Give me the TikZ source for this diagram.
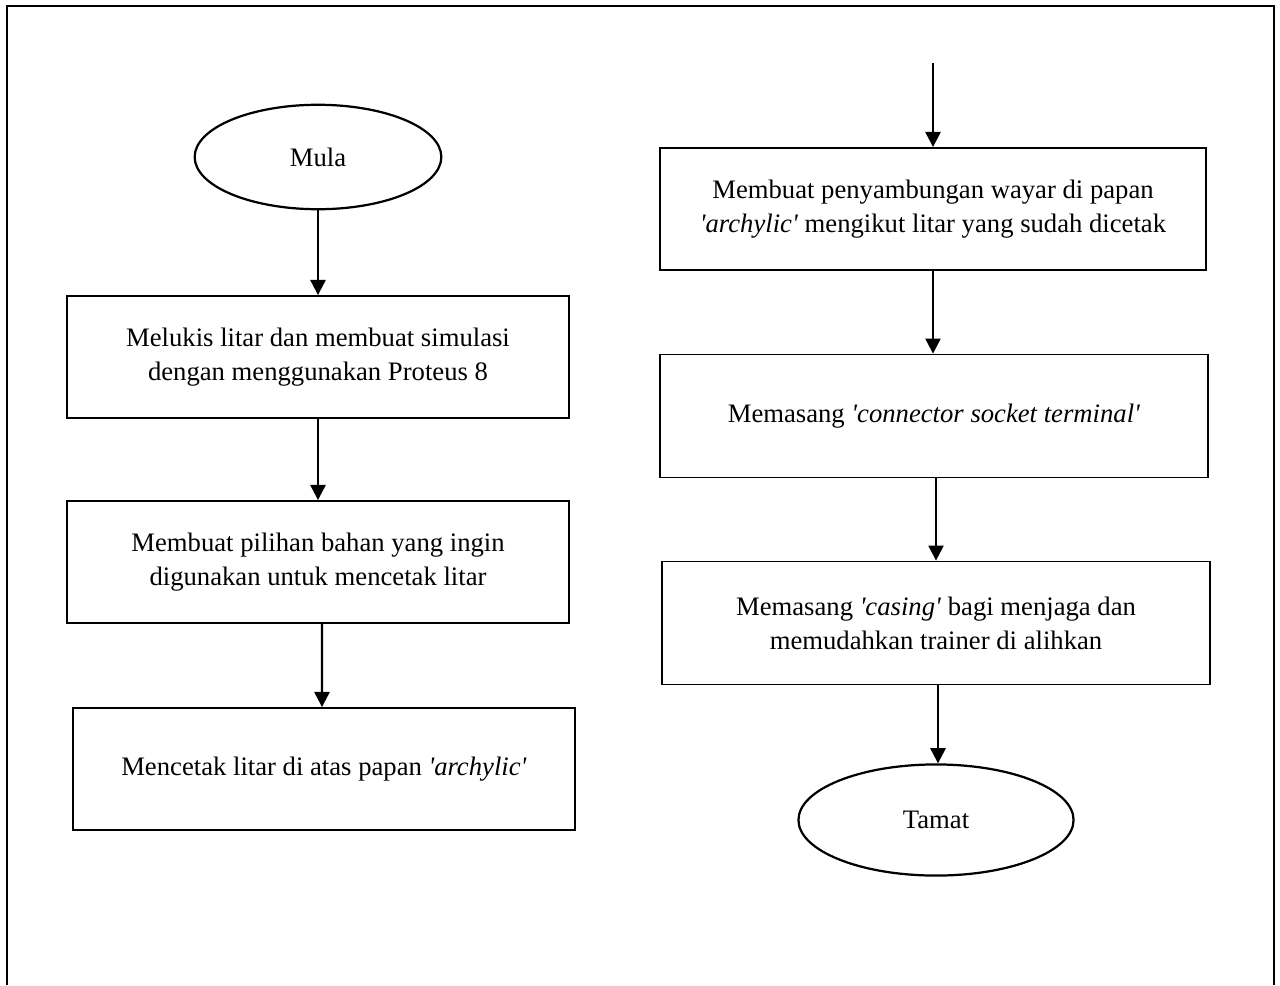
\documentclass[tikz,border=0pt]{standalone}
\usepackage{fontspec}
\setmainfont{Liberation Serif}[Ligatures=TeXOff]
\usetikzlibrary{shapes.geometric}
\usetikzlibrary{arrows.meta}

\begin{document}
\begin{tikzpicture}[x=0.45pt, y=-0.45pt,
        langkah/.style={draw, line width=0.75pt, rectangle, align=center, inner sep=0pt,
            minimum width=225.9pt, minimum height=55pt, font=\fontsize{12}{15.3}\selectfont},
        hujung/.style={draw, line width=1pt, ellipse, inner sep=0pt,
            font=\fontsize{12}{15.3}\selectfont},
        anak/.style={line width=1pt, -{Triangle[length=6.8pt, width=6.8pt]}}]
            \useasboundingbox (0,0) rectangle (1280,985);

            % Draw the frame
            \draw[line width=1pt] (7,985) -- (7,6) -- (1274,6) -- (1274,985);

            % Left column
            \node[hujung, minimum width=111pt, minimum height=47pt] (mula) at (318,157) {Mula};
            \node[langkah] (melukis) at (318,357) {Melukis litar dan membuat simulasi\\dengan menggunakan Proteus 8};
            \node[langkah] (pilihan) at (318,562) {Membuat pilihan bahan yang ingin\\digunakan untuk mencetak litar};
            \node[langkah] (cetak) at (324,769) {Mencetak litar di atas papan \textit{'archylic'}};

            % Right column
            \coordinate (masuk) at (933,63);
            \node[langkah, minimum width=245.7pt] (wayar) at (933,209) {Membuat penyambungan wayar di papan\\\textit{'archylic'} mengikut litar yang sudah dicetak};
            \node[langkah, minimum width=246.6pt, minimum height=55.4pt] (soket) at (934,416) {Memasang \textit{'connector socket terminal'}};
            \node[langkah, minimum width=246.6pt, minimum height=55.4pt] (casing) at (936,623) {Memasang \textit{'casing'} bagi menjaga dan\\memudahkan trainer di alihkan};
            \node[hujung, minimum width=123.8pt, minimum height=50pt] (tamat) at (936,820) {Tamat};

            % Draw the arrows
            \draw[anak] (mula) -- (melukis);
            \draw[anak] (melukis) -- (pilihan);
            \draw[anak] ([xshift=1.8pt]pilihan.south) -- ([xshift=-0.9pt]cetak.north);
            \draw[anak] (masuk) -- (wayar.north);
            \draw[anak] (wayar.south) -- (wayar.south |- soket.north);
            \draw[anak] ([xshift=0.9pt]soket.south) -- (casing.north);
            \draw[anak] ([xshift=0.9pt]casing.south) -- ([xshift=0.9pt]tamat.north);

        \end{tikzpicture}
\end{document}
